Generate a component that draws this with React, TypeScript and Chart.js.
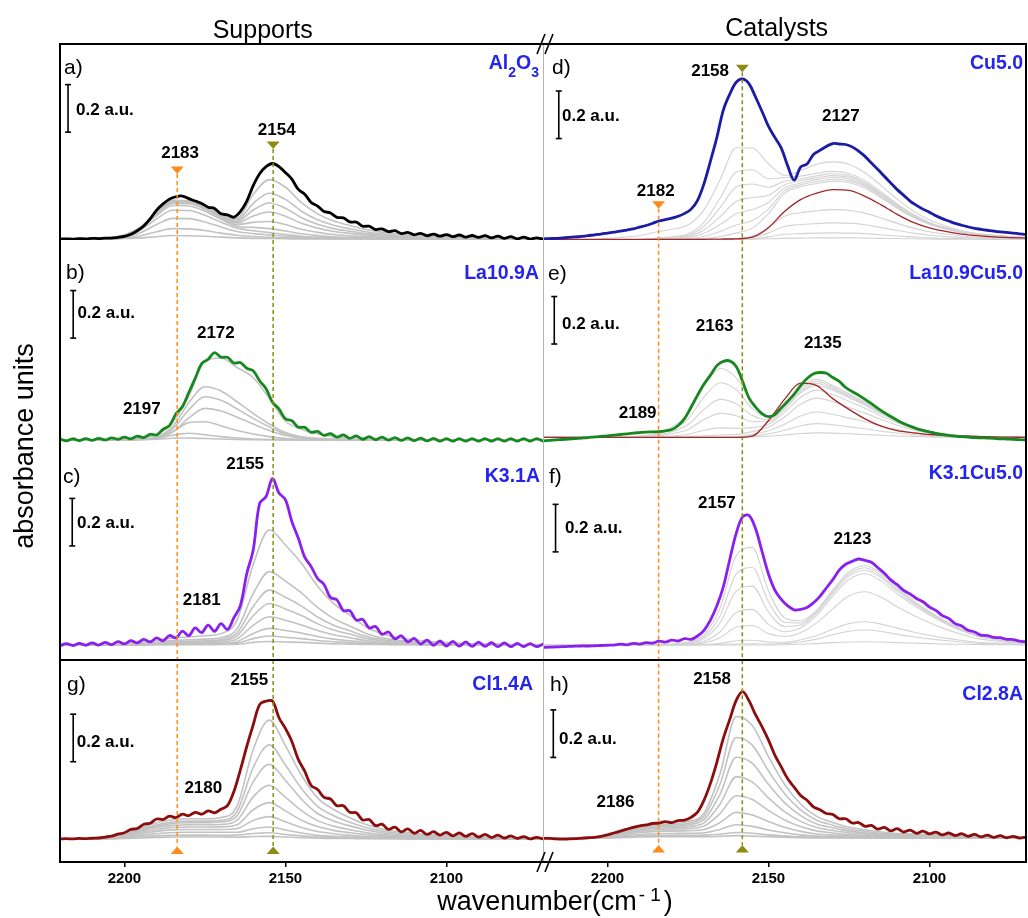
import React, { useEffect, useRef } from 'react';
import { Chart, registerables } from 'chart.js';

Chart.register(...registerables);

const FONT = "'Liberation Sans', Arial, Helvetica, sans-serif";

// ---------------- data: wavenumber in cm-1, absorbance in milli-a.u. ----------------
const WAVENUMBER_FINE = [2220,2218,2216,2214,2212,2210,2208,2206,2204,2202,2200,2198,2196,2194,2192,2190,2188,2186,2184,2182,2180,2178,2176,2174,2172,2170,2168,2166,2164,2162,2160,2158,2156,2154,2152,2150,2148,2146,2144,2142,2140,2138,2136,2134,2132,2130,2128,2126,2124,2122,2120,2118,2116,2114,2112,2110,2108,2106,2104,2102,2100,2098,2096,2094,2092,2090,2088,2086,2084,2082,2080,2078,2076,2074,2072,2070];
const WAVENUMBER_COARSE = [2220,2215,2210,2205,2200,2195,2190,2185,2180,2175,2170,2165,2160,2155,2150,2145,2140,2135,2130,2125,2120,2115,2110,2105,2100,2095,2090,2085,2080,2075,2070];
const X_TICKS = [2200, 2150, 2100];

// a) Al2O3
const AL2O3_FINAL = [0,1,0,2,1,3,2,4,4,7,11,20,35,55,85,122,148,168,178,181,170,160,150,134,129,106,102,92,115,160,225,275,305,318,305,280,252,209,189,154,139,116,110,91,89,72,71,54,54,40,43,31,35,23,28,18,24,14,21,12,19,10,17,8,15,7,14,5,12,3,10,1,8,0,5,0];
const AL2O3_DOSES = [
  [0,0,0,0,2,5,10,15,14,12,8,5,3,2,1,0,0,0,0,0,0,0,0,0,0,0,0,0,0,0,0],
  [0,0,0,1,5,14,31,44,43,36,25,16,11,7,5,3,2,1,1,1,0,0,0,0,0,0,0,0,0,0,0],
  [0,0,1,3,9,27,61,87,86,72,51,32,23,17,12,7,4,3,2,1,1,1,0,0,0,0,0,0,0,0,0],
  [0,0,1,4,13,38,85,121,120,100,71,46,35,27,19,12,8,5,4,3,2,1,1,1,1,0,0,0,0,0,0],
  [0,0,1,4,15,44,99,141,139,117,83,54,49,44,34,22,15,10,7,5,4,3,2,2,1,1,1,1,1,0,0],
  [0,0,2,5,16,47,105,150,149,125,90,61,70,74,61,41,28,19,14,10,7,5,4,3,3,2,2,2,1,1,0],
  [0,0,2,5,16,48,109,155,154,130,95,68,97,114,96,66,46,32,24,17,12,9,7,6,5,4,3,3,2,1,0],
  [0,0,2,5,16,49,111,158,156,133,98,74,122,152,130,90,62,44,33,23,17,12,10,8,6,5,4,3,3,1,0],
  [0,0,2,5,17,50,113,161,159,136,102,80,150,193,167,117,81,58,43,31,22,16,13,10,8,6,5,5,4,2,0],
  [0,0,2,5,17,50,114,163,161,139,106,87,188,250,218,153,106,76,57,40,29,21,17,13,11,8,7,6,5,2,0],
];

// b) La10.9A
const LA_A_FINAL = [4,-4,5,-3,6,-2,7,0,9,3,12,5,16,10,24,21,45,60,110,140,200,260,322,340,368,349,348,324,326,302,291,249,216,159,131,89,81,54,53,32,36,19,27,12,21,7,17,3,14,1,12,-1,10,-2,9,-3,8,-4,7,-5,6,-5,6,-5,6,-5,6,-5,6,-5,6,-5,6,-5,6,-5];
const LA_A_DOSES = [
  [0,0,0,0,2,10,22,75,185,330,345,305,262,175,80,45,25,14,9,6,4,2,1,0,0,0,0,0,0,0,0],
  [0,0,0,0,0,4,13,56,157,224,206,161,112,67,31,13,7,3,2,0,0,0,0,0,0,0,0,0,0,0,0],
  [0,0,0,0,0,4,11,46,127,182,167,131,91,55,25,11,5,3,2,0,0,0,0,0,0,0,0,0,0,0,0],
  [0,0,0,0,0,3,8,33,93,133,122,96,67,40,19,8,4,2,1,0,0,0,0,0,0,0,0,0,0,0,0],
  [0,0,0,0,0,2,8,35,73,77,60,40,25,14,6,3,1,0,0,0,0,0,0,0,0,0,0,0,0,0,0],
  [0,0,0,0,0,2,6,20,28,22,14,8,4,2,1,0,0,0,0,0,0,0,0,0,0,0,0,0,0,0,0],
  [0,0,0,0,0,1,3,7,8,6,4,2,1,0,0,0,0,0,0,0,0,0,0,0,0,0,0,0,0,0,0],
];

// c) K3.1A
const K_A_FINAL = [-3,6,-2,7,-1,9,0,11,2,14,5,18,9,24,13,30,18,40,30,58,40,72,52,84,58,90,65,115,165,300,400,596,625,700,640,612,520,450,370,330,280,255,200,190,145,145,105,108,72,78,45,55,26,39,13,28,4,21,-1,17,-4,15,-5,13,-6,12,-6,10,-7,9,-7,7,-7,6,-7,4];
const K_A_DOSES = [
  [0,0,0,0,5,10,19,29,34,39,48,106,339,484,421,344,247,174,126,77,48,31,22,15,10,7,5,5,2,0,0],
  [0,0,0,0,3,6,12,19,22,25,31,68,216,309,269,219,158,111,80,49,31,20,14,9,6,5,3,3,2,0,0],
  [0,0,0,0,2,5,9,14,16,18,23,51,162,231,201,164,118,83,60,37,23,15,10,7,5,3,2,2,1,0,0],
  [0,0,0,0,2,4,7,11,12,14,18,39,123,175,152,124,89,63,46,28,18,11,8,5,4,3,2,2,1,0,0],
  [0,0,0,0,1,2,5,7,8,10,12,26,83,119,104,84,61,43,31,19,12,8,5,4,2,2,1,1,1,0,0],
  [0,0,0,0,1,1,3,4,5,6,7,15,49,70,61,50,36,25,18,11,7,5,3,2,1,1,1,1,0,0,0],
  [0,0,0,0,0,1,2,2,3,3,4,8,27,38,33,27,19,14,10,6,4,2,2,1,1,1,0,0,0,0,0],
  [0,0,0,0,0,0,1,1,1,1,2,3,11,15,13,11,8,5,4,2,2,1,1,0,0,0,0,0,0,0,0],
];

// g) Cl1.4A
const CL_A_FINAL = [0,1,0,2,1,3,4,8,12,20,26,40,44,62,66,84,82,96,90,104,98,112,104,118,110,125,140,200,290,389,480,565,580,580,510,465,410,335,285,225,208,175,168,140,140,112,110,80,82,56,62,40,50,30,42,24,36,19,31,16,28,13,25,11,22,8,19,6,16,4,13,2,10,0,7,0];
const CL_A_DOSES = [
  [0,0,2,7,21,47,68,81,85,85,90,139,376,500,393,268,173,124,89,61,42,31,24,19,16,12,9,7,5,2,0],
  [0,0,2,6,19,41,60,71,75,75,78,116,300,396,311,212,137,98,70,48,33,24,19,15,12,10,7,6,4,2,0],
  [0,0,1,5,17,37,54,65,68,68,71,98,240,314,246,167,107,76,55,38,26,19,15,12,10,8,6,4,3,1,0],
  [0,0,1,5,15,33,48,57,60,60,61,79,177,226,176,119,77,54,39,27,18,13,10,8,7,5,4,3,2,1,0],
  [0,0,1,4,13,28,40,48,50,50,51,60,123,153,118,79,52,36,26,18,12,9,7,5,4,4,3,2,1,1,0],
  [0,0,1,3,10,22,32,38,40,40,40,44,78,94,72,48,31,22,15,10,7,5,4,3,3,2,2,1,1,0,0],
  [0,0,1,2,7,15,22,27,28,28,28,28,43,50,38,25,15,11,8,5,4,3,2,2,1,1,1,1,0,0,0],
  [0,0,0,1,4,9,13,15,16,16,15,16,23,26,19,13,8,5,4,3,2,1,1,1,1,1,0,0,0,0,0],
  [0,0,0,1,2,4,6,8,8,8,8,7,10,11,8,5,3,2,2,1,1,1,0,0,0,0,0,0,0,0,0],
];

// d) Cu5.0
const CU_FINAL = [3,4,5,7,9,11,13,16,20,23,27,31,35,40,45,52,59,68,78,84,90,98,110,128,165,235,330,430,545,612,662,676,655,600,540,477,430,385,310,250,305,318,358,375,392,404,402,400,390,372,350,322,295,266,238,210,186,162,144,128,115,100,88,78,68,60,53,47,43,39,35,32,30,27,24,21];
const CU_REFERENCE = [0,0,0,0,1,1,1,1,1,1,1,2,3,10,50,118,168,195,210,207,182,146,106,72,49,34,23,16,11,8,6];
const CU_DOSES = [
  [0,0,0,0,0,0,0,0,0,0,0,0,0,1,3,5,6,7,7,7,6,5,4,3,2,1,1,1,0,0,0],
  [0,0,0,0,0,0,0,0,0,0,0,0,1,3,11,22,25,27,28,27,25,20,15,11,7,5,3,2,2,1,1],
  [0,0,0,0,0,0,0,0,0,0,0,0,2,8,28,55,63,67,70,69,62,50,38,27,18,13,8,6,4,3,2],
  [0,0,0,0,0,0,0,0,0,0,0,0,4,15,50,98,113,121,126,123,111,91,68,48,33,23,15,10,8,5,4],
  [0,0,0,0,0,0,0,0,1,2,5,13,27,48,109,194,222,236,246,240,216,176,132,93,64,44,29,20,15,10,7],
  [0,0,0,0,0,0,0,1,2,4,14,34,61,80,129,205,230,244,254,248,223,181,136,96,66,45,30,20,15,10,8],
  [0,0,0,0,0,0,0,2,4,8,26,63,108,126,156,217,238,252,261,255,228,186,139,98,67,46,31,21,15,10,8],
  [0,0,0,0,0,0,0,3,6,13,40,96,160,176,186,230,248,259,269,262,234,190,143,100,69,48,32,21,16,11,8],
  [0,0,0,0,0,0,0,4,9,18,56,134,221,234,220,245,256,268,277,269,240,194,146,103,70,49,32,22,16,11,8],
  [0,0,0,0,0,0,0,6,12,23,73,174,284,294,256,261,267,279,287,278,248,200,150,106,72,50,33,22,17,11,8],
  [0,0,0,0,5,10,16,32,43,61,125,252,386,385,319,270,290,317,327,317,281,227,170,120,82,57,38,25,19,13,9],
];

// e) La10.9Cu5.0
const LA_CU_FINAL = [-15,-13,-11,-9,-7,-5,-3,-1,2,4,6,9,12,15,18,20,22,23,24,27,33,50,80,128,178,225,262,302,320,322,298,235,165,128,100,87,96,125,152,182,218,248,268,273,270,252,236,210,193,178,160,142,122,104,88,72,58,47,37,29,23,17,12,8,5,3,1,-1,-2,-3,-4,-6,-7,-8,-10,-11];
const LA_CU_REFERENCE = [0,0,0,0,0,0,0,0,0,0,0,0,0,5,70,160,228,218,163,118,78,47,28,19,12,9,6,4,2,1,0];
const LA_CU_DOSES = [
  [0,0,0,0,0,0,0,0,0,0,0,0,0,2,5,10,16,19,18,15,12,9,6,4,2,1,1,0,0,0,0],
  [0,0,0,0,0,0,0,0,0,0,0,0,1,7,15,30,49,58,53,44,36,26,18,11,6,3,2,1,0,0,0],
  [0,0,0,0,0,0,0,0,0,0,0,0,2,13,28,55,90,107,97,81,66,48,33,20,11,6,3,1,0,0,0],
  [0,0,0,0,0,0,0,1,2,3,7,10,12,24,44,86,139,165,150,126,102,75,51,31,17,9,5,2,0,0,0],
  [0,0,0,0,0,0,1,2,6,13,30,40,38,41,55,105,169,199,180,152,123,90,62,37,21,10,6,2,0,0,0],
  [0,0,0,0,0,0,2,5,15,33,75,101,91,67,66,118,188,219,198,167,135,99,68,41,23,11,7,2,0,0,0],
  [0,0,0,0,0,0,3,8,24,53,118,160,141,92,74,125,196,228,205,172,140,103,70,42,23,12,7,2,0,0,0],
  [0,0,0,0,0,0,5,12,35,76,170,230,201,121,83,132,204,235,211,178,144,106,72,43,24,12,7,2,0,0,0],
  [0,0,0,0,0,0,6,15,44,96,215,290,252,146,91,139,212,244,218,184,149,109,74,45,25,12,7,2,0,0,0],
];

// f) K3.1Cu5.0
const K_CU_FINAL = [-10,-9,-8,-7,-6,-5,-4,-4,-3,-2,-1,0,4,1,7,4,10,8,16,12,21,17,27,24,38,62,105,165,245,360,470,540,545,490,395,300,231,192,165,148,150,158,178,205,240,275,315,340,352,362,356,348,325,302,274,254,230,215,196,182,160,146,124,112,90,80,62,55,42,40,32,31,24,23,16,14];
const K_CU_DOSES = [
  [0,0,0,0,0,0,0,0,0,0,0,0,0,0,0,1,3,6,10,13,14,13,10,8,6,4,3,2,1,1,0],
  [0,0,0,0,0,0,0,0,0,0,1,2,4,5,4,6,13,25,43,58,63,57,45,35,26,19,13,8,5,3,2],
  [0,0,0,0,0,0,0,0,0,1,2,7,18,20,13,12,22,40,67,90,98,88,71,55,41,29,20,12,8,5,3],
  [0,0,0,0,0,0,0,0,1,3,9,31,75,82,48,36,52,93,153,206,224,202,161,125,94,67,45,27,18,11,7],
  [0,0,0,0,0,0,0,0,2,5,16,56,137,150,87,56,73,125,206,276,300,270,216,168,126,90,60,36,24,15,9],
  [0,0,0,0,0,0,0,0,3,8,27,93,227,248,140,78,84,134,217,290,315,284,227,176,132,95,63,38,25,16,9],
  [0,0,0,0,0,0,0,0,4,11,35,123,298,326,183,96,93,141,225,299,325,293,234,182,137,98,65,39,26,16,10],
  [0,0,0,0,0,0,0,0,4,13,44,155,376,411,228,115,102,147,232,308,335,302,241,188,141,101,67,40,27,17,10],
];

// h) Cl2.8A
const CL_B_FINAL = [0,-1,-3,-4,-3,-2,0,2,4,8,14,22,30,38,46,52,56,62,64,70,66,74,76,88,110,160,231,320,420,500,580,617,578,520,470,414,350,300,250,215,180,160,132,120,104,100,82,82,64,66,50,54,38,46,31,40,26,34,21,30,18,26,14,22,11,19,8,16,6,13,4,11,2,8,1,5];
const CL_B_DOSES = [
  [0,0,0,3,12,30,48,57,60,70,105,272,512,474,344,227,144,92,66,46,36,26,20,18,15,13,10,8,5,3,0],
  [0,0,0,3,11,28,44,52,55,63,92,228,424,392,284,188,119,76,55,38,29,21,17,15,13,11,8,6,4,2,0],
  [0,0,0,3,10,25,40,48,50,57,79,186,341,315,227,150,95,60,44,30,23,17,13,12,10,8,7,5,3,2,0],
  [0,0,0,2,9,22,35,42,44,49,65,144,258,236,170,112,71,45,33,23,18,13,10,9,8,6,5,4,3,1,0],
  [0,0,0,2,8,19,30,36,38,41,51,104,179,163,117,77,49,31,22,15,12,9,7,6,5,4,3,3,2,1,0],
  [0,0,0,2,6,15,24,29,30,32,37,66,109,98,70,46,29,18,13,9,7,5,4,4,3,3,2,2,1,1,0],
  [0,0,0,1,4,10,16,19,20,21,23,37,57,50,35,23,14,9,7,5,4,3,2,2,2,1,1,1,1,0,0],
  [0,0,0,1,2,6,10,11,12,12,13,17,24,21,14,10,6,4,3,2,1,1,1,1,1,0,0,0,0,0,0],
  [0,0,0,0,1,3,5,6,6,6,6,8,11,9,6,4,2,1,1,1,1,0,0,0,0,0,0,0,0,0,0],
];

// ---------------- styles ----------------
const BLACK = '#000000';
const GREEN = '#17881f';
const PURPLE = '#8a20ee';
const NAVY = '#1b1ba3';
const DARK_RED = '#8c0d0d';
const REF_RED = '#a3262a';
const GRAY = '#c2c2c2';
const GRAY_LIGHT = '#d3d3d3';
const LABEL_BLUE = '#2424ee';
const ORANGE = '#ff8c1a';
const OLIVE = '#8c8c14';

const PANELS = [
  { x: 'xL', y: 'yA', final: AL2O3_FINAL, doses: AL2O3_DOSES, ref: null, color: BLACK, gray: GRAY, grayWidth: 1.6 },
  { x: 'xL', y: 'yB', final: LA_A_FINAL, doses: LA_A_DOSES, ref: null, color: GREEN, gray: GRAY, grayWidth: 1.6 },
  { x: 'xL', y: 'yC', final: K_A_FINAL, doses: K_A_DOSES, ref: null, color: PURPLE, gray: GRAY, grayWidth: 1.6 },
  { x: 'xL', y: 'yG', final: CL_A_FINAL, doses: CL_A_DOSES, ref: null, color: DARK_RED, gray: GRAY, grayWidth: 1.6 },
  { x: 'xR', y: 'yD', final: CU_FINAL, doses: CU_DOSES, ref: CU_REFERENCE, color: NAVY, gray: GRAY_LIGHT, grayWidth: 1.1 },
  { x: 'xR', y: 'yE', final: LA_CU_FINAL, doses: LA_CU_DOSES, ref: LA_CU_REFERENCE, color: GREEN, gray: GRAY_LIGHT, grayWidth: 1.1 },
  { x: 'xR', y: 'yF', final: K_CU_FINAL, doses: K_CU_DOSES, ref: null, color: PURPLE, gray: GRAY_LIGHT, grayWidth: 1.1 },
  { x: 'xR', y: 'yH', final: CL_B_FINAL, doses: CL_B_DOSES, ref: null, color: DARK_RED, gray: GRAY, grayWidth: 1.6 },
];

// annotation layout (positions in wavenumber / milli-a.u. of each panel, or px offsets)
const PANEL_NOTES = [
  { x: 'xL', y: 'yA', letter: 'a)', letterAt: [4, 24], sample: [['Al', 0], ['2', 1], ['O', 0], ['3', 1]], sampleAt: [-4, 18], bar: [2217.5, 450], barLabel: [2215, 547], peaks: [['2183', 2182.7, 366], ['2154', 2152.7, 463]] },
  { x: 'xL', y: 'yB', letter: 'b)', letterAt: [6, 33], sample: [['La10.9A', 0]], sampleAt: [-4, 32], bar: [2215.9, 429], barLabel: [2214.6, 540], peaks: [['2172', 2171.6, 456], ['2197', 2194.6, 135]] },
  { x: 'xL', y: 'yC', letter: 'c)', letterAt: [3, 33], sample: [['K3.1A', 0]], sampleAt: [-3, 31], bar: [2216.2, 417], barLabel: [2214.7, 519], peaks: [['2155', 2162.5, 767], ['2181', 2176, 194]] },
  { x: 'xL', y: 'yG', letter: 'g)', letterAt: [7, 25], sample: [['Cl1.4A', 0]], sampleAt: [-10, 23], bar: [2215.9, 325], barLabel: [2214.8, 414], peaks: [['2155', 2161.2, 672], ['2180', 2175.5, 220]] },
  { x: 'xR', y: 'yD', letter: 'd)', letterAt: [9, 24], sample: [['Cu5.0', 0]], sampleAt: [-3, 18], bar: [2215.1, 425], barLabel: [2214.1, 526], peaks: [['2158', 2168.1, 713], ['2127', 2127.5, 526], ['2182', 2185, 208]] },
  { x: 'xR', y: 'yE', letter: 'e)', letterAt: [5, 34], sample: [['La10.9Cu5.0', 0]], sampleAt: [-3, 32], bar: [2216.5, 393], barLabel: [2214.1, 482], peaks: [['2163', 2166.7, 473], ['2135', 2133.1, 402], ['2189', 2190.6, 108]] },
  { x: 'xR', y: 'yF', letter: 'f)', letterAt: [6, 33], sample: [['K3.1Cu5.0', 0]], sampleAt: [-3, 28], bar: [2216.1, 392], barLabel: [2213.2, 498], peaks: [['2157', 2166, 603], ['2123', 2123.9, 449]] },
  { x: 'xR', y: 'yH', letter: 'h)', letterAt: [7, 25], sample: [['Cl2.8A', 0]], sampleAt: [-3, 33], bar: [2216.8, 340], barLabel: [2215, 421], peaks: [['2158', 2167.5, 674], ['2186', 2197.5, 158]] },
];

const MARKERS = [
  { x: 'xL', wn: 2183.6, top: ['yA', 274], bottom: ['yG', -32], color: ORANGE },
  { x: 'xL', wn: 2153.8, top: ['yA', 379], bottom: ['yG', -32], color: OLIVE },
  { x: 'xR', wn: 2184.1, top: ['yD', 130], bottom: ['yH', -28], color: ORANGE },
  { x: 'xR', wn: 2158.1, top: ['yD', 704], bottom: ['yH', -28], color: OLIVE },
];

function font(size: number, weight = 'normal') {
  return `${weight} ${size}px ${FONT}`;
}

function triangle(ctx: any, x: number, y: number, down: boolean) {
  const h = down ? -7.5 : 7.5;
  ctx.beginPath();
  ctx.moveTo(x - 6.5, y + h);
  ctx.lineTo(x + 6.5, y + h);
  ctx.lineTo(x, y);
  ctx.closePath();
  ctx.fill();
}

function seg(ctx: any, x1: number, y1: number, x2: number, y2: number) {
  ctx.beginPath();
  ctx.moveTo(x1, y1);
  ctx.lineTo(x2, y2);
  ctx.stroke();
}

const overlayPlugin = {
  id: 'figureOverlay',
  afterDatasetsDraw(chart: any) {
    const { ctx, chartArea: area, scales } = chart;
    const splitX = scales.xL.right;
    ctx.save();

    // column divider
    ctx.strokeStyle = '#b4b4b4';
    ctx.lineWidth = 1;
    seg(ctx, splitX + 0.5, area.top, splitX + 0.5, area.bottom);

    // marker lines + triangles
    MARKERS.forEach((m) => {
      const px = scales[m.x].getPixelForValue(m.wn);
      const yT = scales[m.top[0]].getPixelForValue(m.top[1]);
      const yB = scales[m.bottom[0]].getPixelForValue(m.bottom[1]);
      ctx.strokeStyle = m.color;
      ctx.lineWidth = 1.5;
      ctx.setLineDash([4, 3]);
      seg(ctx, px, yT, px, yB);
      ctx.setLineDash([]);
      ctx.fillStyle = m.color;
      triangle(ctx, px, yT, true);
      triangle(ctx, px, yB, false);
    });

    // frame
    ctx.strokeStyle = '#000';
    ctx.lineWidth = 2;
    ctx.strokeRect(area.left, area.top, area.right - area.left, area.bottom - area.top);
    const rowY = scales.yC.bottom;
    seg(ctx, area.left, rowY, area.right, rowY);
    ctx.lineWidth = 1.6;
    [area.top, area.bottom].forEach((cy) => {
      [-4, 4].forEach((dx) => {
        const sx = splitX + 2 + dx;
        seg(ctx, sx - 4, cy + 10, sx + 4, cy - 10);
      });
    });

    // panel notes
    PANEL_NOTES.forEach((n) => {
      const xs = scales[n.x];
      const ys = scales[n.y];
      ctx.fillStyle = '#000';
      ctx.textBaseline = 'alphabetic';
      ctx.font = font(21);
      ctx.textAlign = 'left';
      ctx.fillText(n.letter, xs.left + n.letterAt[0], ys.top + n.letterAt[1] + 5.5);
      const big = 19.5;
      const small = 14;
      let total = 0;
      const widths = n.sample.map((p: any) => {
        ctx.font = font(p[1] ? small : big, 'bold');
        const w = ctx.measureText(p[0]).width;
        total += w;
        return w;
      });
      let sx = xs.right + n.sampleAt[0] - total;
      const base = ys.top + n.sampleAt[1] + 0.358 * big;
      ctx.fillStyle = LABEL_BLUE;
      n.sample.forEach((p: any, i: number) => {
        ctx.font = font(p[1] ? small : big, 'bold');
        ctx.fillText(p[0], sx, p[1] ? base + 8 : base);
        sx += widths[i];
      });
      ctx.strokeStyle = '#000';
      ctx.lineWidth = 1.6;
      const bx = xs.getPixelForValue(n.bar[0]);
      const by0 = ys.getPixelForValue(n.bar[1]);
      const by1 = ys.getPixelForValue(n.bar[1] + 200);
      seg(ctx, bx, by0, bx, by1);
      seg(ctx, bx - 3, by0, bx + 3, by0);
      seg(ctx, bx - 3, by1, bx + 3, by1);
      ctx.fillStyle = '#000';
      ctx.font = font(17, 'bold');
      ctx.textAlign = 'left';
      ctx.fillText('0.2 a.u.', xs.getPixelForValue(n.barLabel[0]), ys.getPixelForValue(n.barLabel[1]) + 6.1);
      ctx.textAlign = 'center';
      n.peaks.forEach((p: any) => {
        ctx.fillText(p[0], xs.getPixelForValue(p[1]), ys.getPixelForValue(p[2]) + 6.1);
      });
    });

    // column titles
    ctx.fillStyle = '#000';
    ctx.textAlign = 'center';
    ctx.font = font(25);
    ctx.fillText('Supports', 262.7, 37.5);
    ctx.fillText('Catalysts', 776.7, 35.5);

    // x title with superscript -1
    const main1 = 'wavenumber(cm';
    ctx.font = font(27);
    const w1 = ctx.measureText(main1).width;
    const wParen = ctx.measureText(')').width;
    ctx.font = font(19);
    const wMinus = ctx.measureText('-').width;
    const wOne = ctx.measureText('1').width;
    const supW = 2 + wMinus + 5 + wOne + 3;
    const startX = 555 - (w1 + supW + wParen) / 2;
    ctx.textAlign = 'left';
    ctx.font = font(27);
    ctx.fillText(main1, startX, 910);
    ctx.fillText(')', startX + w1 + supW, 910);
    ctx.font = font(19);
    ctx.fillText('-', startX + w1 + 2, 901);
    ctx.fillText('1', startX + w1 + 2 + wMinus + 5, 901);

    // y title
    ctx.save();
    ctx.translate(33, 446);
    ctx.rotate(-Math.PI / 2);
    ctx.textAlign = 'center';
    ctx.font = font(27);
    ctx.fillText('absorbance units', 0, 0);
    ctx.restore();

    ctx.restore();
  },
};

function buildDatasets() {
  const ds: any[] = [];
  PANELS.forEach((p) => {
    p.doses.forEach((row) => {
      ds.push({
        data: WAVENUMBER_COARSE.map((x, i) => ({ x, y: row[i] })),
        xAxisID: p.x, yAxisID: p.y,
        borderColor: p.gray, borderWidth: p.grayWidth,
        pointRadius: 0, cubicInterpolationMode: 'monotone', order: 3,
      });
    });
    if (p.ref) {
      const ref = p.ref;
      ds.push({
        data: WAVENUMBER_COARSE.map((x, i) => ({ x, y: ref[i] })),
        xAxisID: p.x, yAxisID: p.y,
        borderColor: REF_RED, borderWidth: 1.3,
        pointRadius: 0, cubicInterpolationMode: 'monotone', order: 2,
      });
    }
    ds.push({
      data: WAVENUMBER_FINE.map((x, i) => ({ x, y: p.final[i] })),
      xAxisID: p.x, yAxisID: p.y,
      borderColor: p.color, borderWidth: 2.8,
      pointRadius: 0, tension: 0.35, order: 1,
      borderJoinStyle: 'round', borderCapStyle: 'round',
    });
  });
  return ds;
}

function xScale(weight: number) {
  return {
    type: 'linear', position: 'bottom', stack: 'columns', stackWeight: 1, weight,
    reverse: true, min: 2070, max: 2220, bounds: 'data',
    afterBuildTicks: (s: any) => { s.ticks = X_TICKS.map((value) => ({ value })); },
    afterFit: (s: any) => { s.height = 56; },
    grid: { display: true, drawOnChartArea: false, drawTicks: true, tickLength: 5, color: '#000', lineWidth: 1.5 },
    border: { display: false },
    ticks: {
      color: '#000', padding: 3, maxRotation: 0, autoSkip: false,
      font: { family: FONT, size: 15, weight: 'bold' },
      callback: (v: any) => String(v),
    },
  };
}

function yScale(min: number, max: number, weight: number, stack: string, stackWeight: number) {
  return { type: 'linear', display: false, position: 'left', stack, stackWeight, weight, min, max, bounds: 'data' };
}

export default function App() {
  const ref = useRef<HTMLCanvasElement>(null);
  useEffect(() => {
    const chart = new Chart(ref.current as HTMLCanvasElement, {
      type: 'line',
      data: { datasets: buildDatasets() },
      options: {
        animation: false,
        responsive: false,
        devicePixelRatio: 1,
        events: [],
        layout: { padding: { left: 60, top: 44, right: 2, bottom: 0 } },
        plugins: { legend: { display: false }, tooltip: { enabled: false } },
        scales: {
          xL: xScale(1),
          xR: xScale(2),
          yA: yScale(-4, 821, 4, 'L', 196),
          yB: yScale(-17, 842, 3, 'L', 204),
          yC: yScale(-63, 846, 2, 'L', 216),
          yG: yScale(-97, 753, 1, 'L', 202),
          yD: yScale(-2, 823, 4, 'R', 196),
          yE: yScale(-28, 831, 3, 'R', 204),
          yF: yScale(-63, 846, 2, 'R', 216),
          yH: yScale(-100, 750, 1, 'R', 202),
        },
      } as any,
      plugins: [overlayPlugin],
    } as any);
    return () => chart.destroy();
  }, []);
  return (
    <div style={{ position: 'absolute', left: 0, top: 0, width: 1028, height: 918, background: '#fff' }}>
      <canvas ref={ref} width={1028} height={918} style={{ display: 'block', width: 1028, height: 918 }} />
    </div>
  );
}
